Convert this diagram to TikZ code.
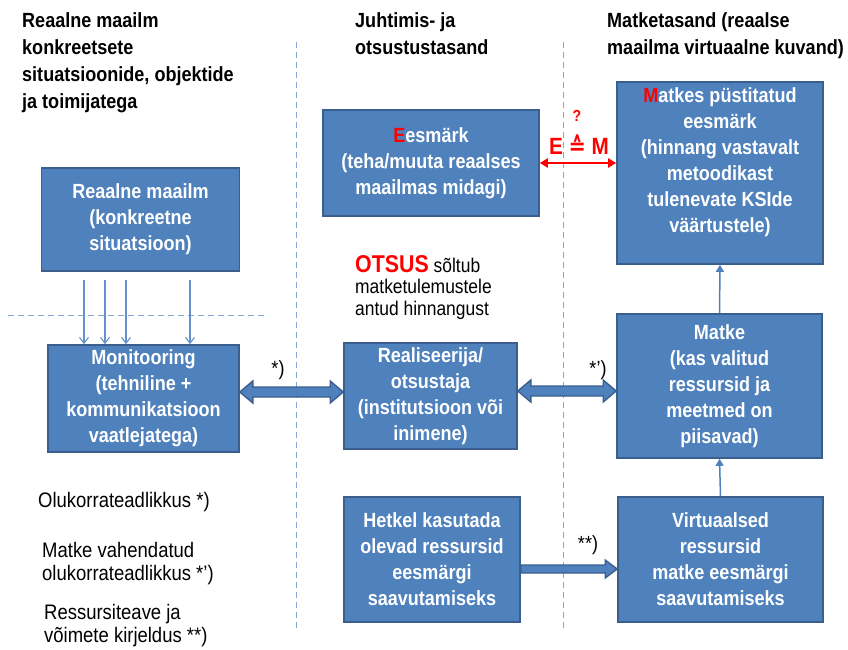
\documentclass[tikz,border=0pt]{standalone}
\usepackage{fontspec}
\setmainfont{Liberation Sans}[FakeStretch=0.88]
\newfontfamily\symfont{DejaVu Sans}[FakeStretch=0.88]
\usetikzlibrary{arrows.meta,calc}

\definecolor{boxfill}{HTML}{4F81BD}
\definecolor{boxline}{HTML}{3A5F8F}
\definecolor{guide}{HTML}{86A8D8}
\definecolor{feed}{HTML}{6790CC}
\definecolor{hot}{HTML}{FF0000}

\tikzset{
  block/.style={draw=boxline, line width=1.6pt, fill=boxfill, text=white,
    font=\fontsize{20.5}{26}\selectfont\bfseries, align=center, inner sep=0pt},
  title/.style={font=\fontsize{20.5}{27}\selectfont\bfseries, align=left,
    anchor=north west, inner sep=0pt},
  note/.style={font=\fontsize{21}{23.5}\selectfont, align=left,
    anchor=north west, inner sep=0pt},
  starlabel/.style={font=\fontsize{20.5}{20.5}\selectfont, inner sep=0pt},
  guideline/.style={guide, line width=1pt, dash pattern=on 6pt off 4pt},
  feedline/.style={feed, line width=1.1pt, -{Straight Barb[length=6pt,width=9pt]}},
  upline/.style={boxfill, line width=1.5pt, -{Triangle[length=7pt,width=8pt]}},
  blockarrow/.style={draw=boxline, line width=1.4pt, fill=boxfill, line join=miter}
}

% double-headed block arrow between two points on one horizontal line
\newcommand\twinarrow[2]{%
  \path[blockarrow] let \p1=(#1), \p2=(#2) in
    (\x1,\y1) -- (\x1+13pt,\y1+11pt) -- (\x1+13pt,\y1+5pt) -- (\x2-13pt,\y1+5pt)
    -- (\x2-13pt,\y1+11pt) -- (\x2,\y1) -- (\x2-13pt,\y1-11pt) -- (\x2-13pt,\y1-5pt)
    -- (\x1+13pt,\y1-5pt) -- (\x1+13pt,\y1-11pt) -- cycle;}
% single-headed block arrow
\newcommand\onearrow[2]{%
  \path[blockarrow] let \p1=(#1), \p2=(#2) in
    (\x1,\y1+4pt) -- (\x2-12pt,\y1+4pt) -- (\x2-12pt,\y1+9pt) -- (\x2,\y1)
    -- (\x2-12pt,\y1-9pt) -- (\x2-12pt,\y1-4pt) -- (\x1,\y1-4pt) -- cycle;}

\begin{document}
\begin{tikzpicture}[x=1pt,y=-1pt]
\useasboundingbox (0,0) rectangle (848,649);

% column separators and the horizontal guide
\draw[guideline] (296,42) -- (296,630);
\draw[guideline] (563,42) -- (563,630);
\draw[guideline] (8,315) -- (268,315);

% column headings
\node[title] (h1) at (22,12) {Reaalne maailm\\konkreetsete\\situatsioonide, objektide\\ja toimijatega};
\node[title] (h2) at (355,12) {Juhtimis- ja\\otsustustasand};
\node[title] (h3) at (607,12) {Matketasand (reaalse\\maailma virtuaalne kuvand)};

% boxes
\node[block, minimum width=198, minimum height=103] (world) at (140.5,219.5)
  {Reaalne maailm\\(konkreetne\\situatsioon)};
\node[block, minimum width=191, minimum height=107] (mon) at (143.5,398.5)
  {Monitooring\\(tehniline +\\kommunikatsioon\\vaatlejatega)};
\node[block, minimum width=216, minimum height=106] (goal) at (431,163)
  {\textcolor{hot}{E}esmärk\\(teha/muuta reaalses\\maailmas midagi)};
\node[block, minimum width=206, minimum height=182] (simgoal) at (720,173) {};
\node[block, draw=none, fill=none] (simgoaltext) at (720,162)
  {\textcolor{hot}{M}atkes püstitatud\\eesmärk\\(hinnang vastavalt\\metoodikast\\tulenevate KSIde\\väärtustele)};
\node[block, minimum width=173, minimum height=106] (actor) at (430.5,396)
  {Realiseerija/\\otsustaja\\(institutsioon või\\inimene)};
\node[block, minimum width=205, minimum height=144] (sim) at (719.5,386)
  {Matke\\(kas valitud\\ressursid ja\\meetmed on\\piisavad)};
\node[block, minimum width=176, minimum height=125] (res) at (432,559.5)
  {Hetkel kasutada\\olevad ressursid\\eesmärgi\\saavutamiseks};
\node[block, minimum width=205, minimum height=125] (vres) at (720.5,559.5)
  {Virtuaalsed\\ressursid\\matke eesmärgi\\saavutamiseks};

% observation arrows
\coordinate (o1) at (84,280);
\coordinate (o2) at (105,280);
\coordinate (o3) at (126,280);
\coordinate (o4) at (190,280);
\foreach \c in {o1,o2,o3,o4} \draw[feedline] (\c) -- (\c |- mon.north);

% block arrows
\twinarrow{mon.east |- 0,392}{actor.west |- 0,392}
\twinarrow{actor.east |- 0,391}{sim.west |- 0,391}
\onearrow{res.east |- 0,569}{vres.west |- 0,569}

% upward links on the simulation side
\draw[upline] (vres.north) -- (sim.south);
\draw[upline] (sim.north) -- (simgoal.south);

% goal comparison
\draw[hot, line width=2.2pt, {Triangle[length=8pt,width=9pt]}-{Triangle[length=8pt,width=9pt]}]
  (goal.east) -- (simgoal.west |- goal.east);
\node[font=\fontsize{23.5}{23.5}\selectfont\bfseries, text=hot, inner sep=0pt] (eq) at (579,145)
  {E {\symfont ≙} M};
\node[font=\fontsize{16}{16}\selectfont\bfseries, text=hot, inner sep=0pt] (q) at (577,116) {?};

% arrow labels
\node[starlabel] (l1) at (278,370) {*)};
\node[starlabel] (l2) at (598,370) {*')};
\node[starlabel] (l3) at (588,545) {**)};

% decision note
\node[anchor=north west, inner sep=0pt, align=left, font=\fontsize{19.8}{21.5}\selectfont] (dec) at (355,255)
  {{\fontsize{24.3}{24.3}\selectfont\bfseries\textcolor{hot}{OTSUS}} sõltub\\matketulemustele\\antud hinnangust};

% legend notes
\node[note] (n1) at (38,492) {Olukorrateadlikkus *)};
\node[note] (n2) at (42,542) {Matke vahendatud\\olukorrateadlikkus *')};
\node[note] (n3) at (44,604) {Ressursiteave ja\\võimete kirjeldus **)};
\end{tikzpicture}
\end{document}
